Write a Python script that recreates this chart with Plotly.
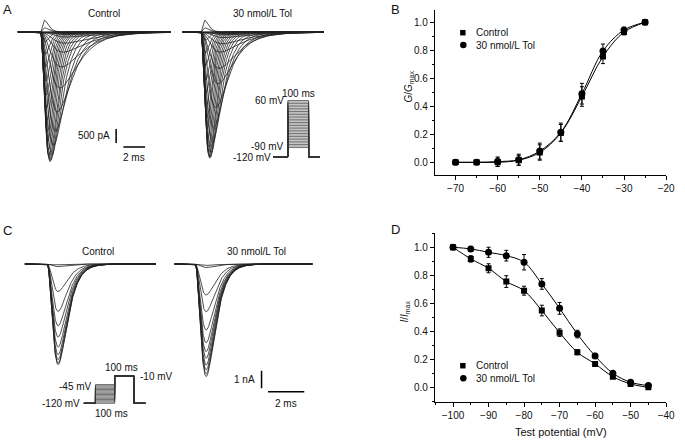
import numpy as np
import plotly.graph_objects as go

W, H = 685, 441
FONT = "Arial, 'Liberation Sans', sans-serif"
INK = "#111111"

# ---------------- Panel B: activation (G/Gmax) ----------------
b_voltage = [-70, -65, -60, -55, -50, -45, -40, -35, -30, -25]
b_control = [0.0, 0.0, 0.0, 0.015, 0.07, 0.21, 0.47, 0.755, 0.93, 1.0]
b_control_err = [0.005, 0.006, 0.03, 0.035, 0.055, 0.06, 0.07, 0.05, 0.02, 0.01]
b_tol = [0.0, 0.0, 0.005, 0.018, 0.08, 0.215, 0.49, 0.795, 0.945, 1.0]
b_tol_err = [0.005, 0.006, 0.033, 0.04, 0.057, 0.065, 0.074, 0.05, 0.02, 0.01]

# ---------------- Panel D: steady-state inactivation (I/Imax) ----------------
d_voltage = [-100, -95, -90, -85, -80, -75, -70, -65, -60, -55, -50, -45]
d_control = [1.0, 0.917, 0.85, 0.755, 0.69, 0.548, 0.39, 0.25, 0.167, 0.076, 0.024, 0.0]
d_control_err = [0.008, 0.023, 0.032, 0.042, 0.032, 0.038, 0.027, 0.018, 0.012, 0.01, 0.008, 0.005]
d_tol = [1.0, 0.988, 0.964, 0.94, 0.893, 0.738, 0.564, 0.38, 0.224, 0.1, 0.036, 0.012]
d_tol_err = [0.008, 0.018, 0.036, 0.038, 0.055, 0.038, 0.042, 0.027, 0.018, 0.012, 0.008, 0.005]

# ---------------- Panel A: current family (test -85..+60 mV) ----------------
a_test_mv = list(range(-85, 65, 5))
a_ctrl_peak_na = [-0.01, -0.02, -0.03, -0.05, -0.09, -0.18, -0.40, -0.72, -1.25, -2.0,
                  -2.85, -3.55, -4.05, -4.4, -4.58, -4.63, -4.55, -4.4, -4.2, -3.9,
                  -3.55, -3.15, -2.7, -2.25, -1.75, -1.25, -0.8, -0.35, 0.15, 0.42]
a_ctrl_tpeak_ms = [2.4, 2.4, 2.4, 2.4, 2.4, 2.4, 2.3, 2.1, 1.95, 1.8,
                   1.55, 1.35, 1.2, 1.05, 0.95, 0.88, 0.82, 0.77, 0.72, 0.68,
                   0.64, 0.6, 0.57, 0.54, 0.51, 0.48, 0.45, 0.42, 0.4, 0.38]
a_ctrl_tau_ms = [3.0, 3.0, 3.0, 3.0, 3.0, 3.0, 2.6, 2.3, 1.9, 1.6,
                 1.3, 1.1, 0.95, 0.82, 0.72, 0.65, 0.6, 0.55, 0.5, 0.47,
                 0.44, 0.42, 0.4, 0.38, 0.36, 0.35, 0.34, 0.33, 0.32, 0.31]
a_tol_peak_na = [-0.01, -0.02, -0.03, -0.05, -0.1, -0.2, -0.42, -0.72, -1.3, -1.85,
                 -2.7, -3.4, -3.95, -4.3, -4.47, -4.5, -4.45, -4.3, -4.1, -3.8,
                 -3.45, -3.05, -2.6, -2.15, -1.7, -1.2, -0.75, -0.3, 0.15, 0.42]
a_tol_tpeak_ms = [2.1, 2.1, 2.1, 2.1, 2.1, 2.1, 2.0, 1.8, 1.7, 1.6,
                  1.38, 1.2, 1.07, 0.96, 0.88, 0.82, 0.77, 0.72, 0.68, 0.64,
                  0.6, 0.57, 0.54, 0.51, 0.48, 0.45, 0.43, 0.41, 0.39, 0.37]
a_tol_tau_ms = [2.6, 2.6, 2.6, 2.6, 2.6, 2.6, 2.3, 2.0, 1.65, 1.4,
                1.15, 0.97, 0.84, 0.73, 0.65, 0.59, 0.54, 0.5, 0.46, 0.43,
                0.41, 0.39, 0.37, 0.35, 0.34, 0.33, 0.32, 0.31, 0.3, 0.3]
a_step_levels_mv = list(range(-90, 65, 5))

# ---------------- Panel C: currents at -10 mV after prepulses ----------------
c_ctrl_peak_na = [-0.05, -0.15, -1.56, -2.69, -3.51, -4.15, -4.72, -5.15, -5.44, -5.63, -5.72]
c_tol_peak_na = [-0.08, -0.2, -1.76, -2.71, -3.75, -4.47, -4.98, -5.36, -5.74, -6.02, -6.25, -6.40]
c_tpeak_ms = 0.62
c_tau_ms = 0.42
c_prepulse_levels_mv = list(range(-120, -40, 5))

HOLD_MV = -120
TEST_MV = -10


def px_x(p):
    return p / W


def px_y(p):
    return 1 - p / H


def solve_tm(tp, th):
    lo, hi = 1e-4, 50.0
    for _ in range(80):
        mid = 0.5 * (lo + hi)
        if mid * np.log(1 + 3 * th / mid) < tp:
            lo = mid
        else:
            hi = mid
    return 0.5 * (lo + hi)


def current(t, peak, tp, th):
    tm = solve_tm(tp, th)
    tt = np.clip(t, 0, None)
    f = (1 - np.exp(-tt / tm)) ** 3 * np.exp(-tt / th)
    fmax = (1 - np.exp(-tp / tm)) ** 3 * np.exp(-tp / th)
    return peak * f / fmax


fig = go.Figure()
TR = dict(color="#222", width=0.8)

# ---- A traces
A_XR_C = [(18 - 41) / 11, (173 - 41) / 11]
A_XR_T = [(185 - 203.5) / 11, (328 - 203.5) / 11]
A_YR = [-(175 - 32) / 28, (32 - 10) / 28]
tA_c = np.linspace(A_XR_C[0], A_XR_C[1], 700)
tA_t = np.linspace(A_XR_T[0], A_XR_T[1], 700)
for pk, tp, th in zip(a_ctrl_peak_na, a_ctrl_tpeak_ms, a_ctrl_tau_ms):
    fig.add_trace(go.Scatter(x=tA_c, y=current(tA_c, pk, tp, th), mode="lines",
                             line=TR, xaxis="x3", yaxis="y3",
                             showlegend=False, hoverinfo="skip"))
for pk, tp, th in zip(a_tol_peak_na, a_tol_tpeak_ms, a_tol_tau_ms):
    fig.add_trace(go.Scatter(x=tA_t, y=current(tA_t, pk, tp, th), mode="lines",
                             line=TR, xaxis="x4", yaxis="y4",
                             showlegend=False, hoverinfo="skip"))

# ---- C traces
C_XR_C = [(25 - 47.5) / 18.35, (158 - 47.5) / 18.35]
C_XR_T = [(176.7 - 197.5) / 18.35, (316.7 - 197.5) / 18.35]
C_YR = [-(420 - 264) / 17.6, (264 - 240) / 17.6]
tC_c = np.linspace(C_XR_C[0], C_XR_C[1], 700)
tC_t = np.linspace(C_XR_T[0], C_XR_T[1], 700)
for pk in c_ctrl_peak_na:
    fig.add_trace(go.Scatter(x=tC_c, y=current(tC_c, pk, c_tpeak_ms, c_tau_ms), mode="lines",
                             line=TR, xaxis="x5", yaxis="y5",
                             showlegend=False, hoverinfo="skip"))
for pk in c_tol_peak_na:
    fig.add_trace(go.Scatter(x=tC_t, y=current(tC_t, pk, c_tpeak_ms, c_tau_ms), mode="lines",
                             line=TR, xaxis="x6", yaxis="y6",
                             showlegend=False, hoverinfo="skip"))

# ---- Protocols (schematic time in ms)
A_PRE, A_STEP, A_POST = 70, 100, 55
for v in a_step_levels_mv:
    fig.add_trace(go.Scatter(
        x=[0, A_PRE, A_PRE, A_PRE + A_STEP, A_PRE + A_STEP, A_PRE + A_STEP + A_POST],
        y=[HOLD_MV, HOLD_MV, v, v, HOLD_MV, HOLD_MV], mode="lines",
        line=dict(color="#333", width=0.7), xaxis="x7", yaxis="y7",
        showlegend=False, hoverinfo="skip"))
C_PRE, C_STEP, C_TEST, C_POST = 60, 100, 100, 60
for v in c_prepulse_levels_mv:
    x1 = C_PRE
    x2 = C_PRE + C_STEP
    x3 = x2 + C_TEST
    fig.add_trace(go.Scatter(
        x=[0, x1, x1, x2, x2, x3, x3, x3 + C_POST],
        y=[HOLD_MV, HOLD_MV, v, v, TEST_MV, TEST_MV, HOLD_MV, HOLD_MV], mode="lines",
        line=dict(color="#333", width=0.7), xaxis="x8", yaxis="y8",
        showlegend=False, hoverinfo="skip"))


# ---- B
def err(arr):
    return dict(type="data", array=arr, visible=True, color="black", thickness=1, width=2)


fig.add_trace(go.Scatter(x=b_voltage, y=b_control, error_y=err(b_control_err),
                         mode="lines+markers", line=dict(color="black", width=1, shape="spline"),
                         marker=dict(symbol="square", size=6, color="black"),
                         xaxis="x", yaxis="y", showlegend=False))
fig.add_trace(go.Scatter(x=b_voltage, y=b_tol, error_y=err(b_tol_err),
                         mode="lines+markers", line=dict(color="black", width=1, shape="spline"),
                         marker=dict(symbol="circle", size=7, color="black"),
                         xaxis="x", yaxis="y", showlegend=False))
# ---- D
fig.add_trace(go.Scatter(x=d_voltage, y=d_control, error_y=err(d_control_err),
                         mode="lines+markers", line=dict(color="black", width=1, shape="spline"),
                         marker=dict(symbol="square", size=6, color="black"),
                         xaxis="x2", yaxis="y2", showlegend=False))
fig.add_trace(go.Scatter(x=d_voltage, y=d_tol, error_y=err(d_tol_err),
                         mode="lines+markers", line=dict(color="black", width=1, shape="spline"),
                         marker=dict(symbol="circle", size=7, color="black"),
                         xaxis="x2", yaxis="y2", showlegend=False))

tickfont = dict(family=FONT, size=10, color=INK)


def plot_axis(domain, rng, dtick, tick0, minor_dtick, anchor, fmt=None):
    d = dict(domain=domain, range=rng, anchor=anchor, showline=True, linecolor="black", linewidth=1,
             ticks="outside", ticklen=4, tickwidth=1, tickcolor="black",
             dtick=dtick, tick0=tick0, showgrid=False, zeroline=False,
             tickfont=tickfont, mirror=False, fixedrange=True,
             minor=dict(dtick=minor_dtick, ticks="outside", ticklen=2, tickcolor="black",
                        tickwidth=1, showgrid=False))
    if fmt:
        d["tickformat"] = fmt
    return d


def hidden(domain, rng, anchor):
    return dict(domain=domain, range=rng, visible=False, fixedrange=True, anchor=anchor)


# protocol axes ranges
A7_X = [(270 - 277) / 0.21, (335 - 277) / 0.21]
A7_Y = [HOLD_MV - (162 - 157) / 0.314, HOLD_MV + (157 - 92) / 0.314]
C8_X = [(80 - 85) / 0.195, (150 - 85) / 0.195]
C8_Y = [HOLD_MV - (410 - 403.3) / 0.25, HOLD_MV + (403.3 - 365) / 0.25]

fig.update_layout(
    width=W, height=H, margin=dict(l=0, r=0, t=0, b=0), autosize=False,
    paper_bgcolor="white", plot_bgcolor="rgba(0,0,0,0)",
    font=dict(family=FONT, size=10, color=INK),
    xaxis=plot_axis([px_x(440.7), px_x(675)], [-74.9, -20], 10, -70, 5, "y"),
    yaxis=plot_axis([px_y(175), px_y(10)], [-0.0907, 1.0879], 0.2, 0, 0.1, "x", ".1f"),
    xaxis2=plot_axis([px_x(440.7), px_x(675)], [-105.1, -40], 10, -100, 5, "y2"),
    yaxis2=plot_axis([px_y(401.7), px_y(232.7)], [-0.103, 1.104], 0.2, 0, 0.1, "x2", ".1f"),
    xaxis3=hidden([px_x(18), px_x(173)], A_XR_C, "y3"),
    yaxis3=hidden([px_y(175), px_y(10)], A_YR, "x3"),
    xaxis4=hidden([px_x(185), px_x(328)], A_XR_T, "y4"),
    yaxis4=hidden([px_y(175), px_y(10)], A_YR, "x4"),
    xaxis5=hidden([px_x(25), px_x(158)], C_XR_C, "y5"),
    yaxis5=hidden([px_y(420), px_y(240)], C_YR, "x5"),
    xaxis6=hidden([px_x(176.7), px_x(316.7)], C_XR_T, "y6"),
    yaxis6=hidden([px_y(420), px_y(240)], C_YR, "x6"),
    xaxis7=hidden([px_x(270), px_x(335)], A7_X, "y7"),
    yaxis7=hidden([px_y(162), px_y(92)], A7_Y, "x7"),
    xaxis8=hidden([px_x(80), px_x(150)], C8_X, "y8"),
    yaxis8=hidden([px_y(410), px_y(365)], C8_Y, "x8"),
)

# scale bars (data units)
shapes = [
    dict(type="line", xref="x3", yref="y3", x0=6.97, x1=6.97, y0=-3.46, y1=-3.96,
         line=dict(color="black", width=1.5)),
    dict(type="line", xref="x3", yref="y3", x0=7.64, x1=9.64, y0=-4.11, y1=-4.11,
         line=dict(color="black", width=1.5)),
    dict(type="line", xref="x6", yref="y6", x0=3.68, x1=3.68, y0=-6.06, y1=-7.06,
         line=dict(color="black", width=1.5)),
    dict(type="line", xref="x6", yref="y6", x0=4.04, x1=6.04, y0=-7.26, y1=-7.26,
         line=dict(color="black", width=1.5)),
]
# legend glyphs
for cy_sq, cy_ci in [(32.7, 45.0), (365.7, 378.3)]:
    shapes.append(dict(type="rect", xref="paper", yref="paper",
                       x0=px_x(469 - 2.75), x1=px_x(469 + 2.75),
                       y0=px_y(cy_sq + 2.75), y1=px_y(cy_sq - 2.75),
                       fillcolor="black", line=dict(width=0)))
    shapes.append(dict(type="circle", xref="paper", yref="paper",
                       x0=px_x(469.5 - 3.3), x1=px_x(469.5 + 3.3),
                       y0=px_y(cy_ci + 3.3), y1=px_y(cy_ci - 3.3),
                       fillcolor="black", line=dict(width=0)))
fig.update_layout(shapes=shapes)

ann = []


def pa(text, x, y, size=10, xanchor="center", yanchor="middle", angle=0):
    ann.append(dict(text=text, x=px_x(x), y=px_y(y), xref="paper", yref="paper",
                    showarrow=False, xanchor=xanchor, yanchor=yanchor, textangle=angle,
                    font=dict(family=FONT, size=size, color=INK)))


def da(text, x, y, ax, xanchor="center", yanchor="middle", yshift=0, size=10):
    ann.append(dict(text=text, x=x, y=y, xref=ax[0], yref=ax[1], showarrow=False,
                    xanchor=xanchor, yanchor=yanchor, yshift=yshift,
                    font=dict(family=FONT, size=size, color=INK)))


pa("A", 8, 9.5, size=13)
pa("B", 401, 9, size=13)
pa("C", 8, 230.5, size=13)
pa("D", 401, 229.5, size=13)
pa("Control", 105, 13.3)
pa("30 nmol/L Tol", 266, 13.3)
pa("Control", 99.5, 251.7)
pa("30 nmol/L Tol", 259.5, 251.7)
pa("<i>G</i>/<i>G</i><sub>max</sub>", 414, 87, size=10, angle=-90)
pa("<i>I</i>/<i>I</i><sub>max</sub>", 410, 312, size=10, angle=-90)
pa("Test potential (mV)", 568, 431.7, size=11)
for cy, txt in [(32.7, "Control"), (45.0, "30 nmol/L Tol"), (365.7, "Control"), (378.3, "30 nmol/L Tol")]:
    pa(txt, 480.5, cy, xanchor="left")

# scale-bar labels
da("500 pA", 6.55, -3.71, ("x3", "y3"), xanchor="right")
da("2 ms", 8.64, -4.11, ("x3", "y3"), yanchor="top", yshift=-3)
da("1 nA", 3.41, -6.56, ("x6", "y6"), xanchor="right")
da("2 ms", 5.04, -7.26, ("x6", "y6"), yanchor="top", yshift=-4)

# protocol labels
da("60 mV", A_PRE - 10, 60, ("x7", "y7"), xanchor="right")
da("100 ms", A_PRE + A_STEP / 2, 60, ("x7", "y7"), yanchor="bottom", yshift=-1)
da("-90 mV", A_PRE - 10, -90, ("x7", "y7"), xanchor="right", yshift=1)
da("-120 mV", -3, HOLD_MV, ("x7", "y7"), xanchor="right")
da("-45 mV", C_PRE - 8, -45, ("x8", "y8"), xanchor="right", yshift=-2)
da("100 ms", C_PRE + C_STEP + 35, TEST_MV, ("x8", "y8"), yanchor="bottom", yshift=1)
da("-10 mV", C_PRE + C_STEP + C_TEST + 22, TEST_MV, ("x8", "y8"), xanchor="left", yshift=-1)
da("-120 mV", -12, HOLD_MV, ("x8", "y8"), xanchor="right")
da("100 ms", C_PRE + 84, HOLD_MV, ("x8", "y8"), yanchor="top", yshift=-3)

fig.update_layout(annotations=ann)
fig.write_html("out.html",
               config={"displayModeBar": False, "staticPlot": True},
               post_script="document.body.style.margin='0';document.body.style.padding='0';"
                           "document.documentElement.style.overflow='hidden';")
